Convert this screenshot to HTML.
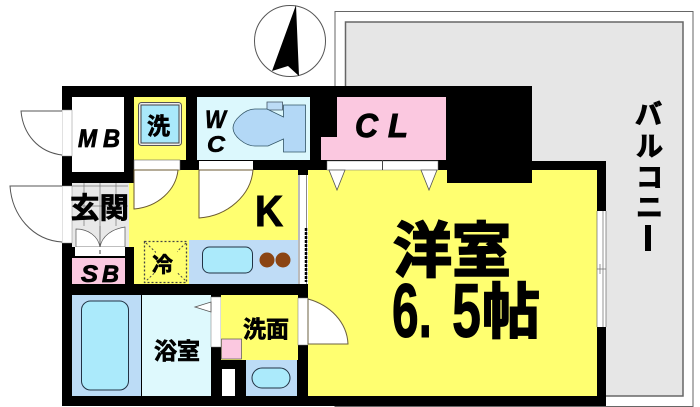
<!DOCTYPE html>
<html><head><meta charset="utf-8"><style>
html,body{margin:0;padding:0;background:#fff;width:700px;height:407px;overflow:hidden}
svg{display:block}
text{font-family:"Liberation Sans","Noto Sans CJK JP",sans-serif;font-weight:700;fill:#000;stroke:#000}
</style></head><body>
<svg width="700" height="407" viewBox="0 0 700 407" xmlns="http://www.w3.org/2000/svg">
<!-- balcony -->
<rect x="335" y="11.500" width="358" height="395" fill="#fff" stroke="#666" stroke-width="1"/>
<rect x="345.500" y="22" width="337.500" height="374" fill="#e6e6e6" stroke="#666" stroke-width="1.500"/>
<!-- compass -->
<circle cx="290" cy="41" r="35.500" fill="#fff" stroke="#555" stroke-width="1"/>
<polygon points="296,5 272,71 288,66 299,76" fill="#000"/>
<!-- walls -->
<rect x="62" y="86" width="470" height="320" fill="#000"/>
<rect x="532" y="161" width="74" height="245" fill="#000"/>
<rect x="335" y="396" width="271" height="10" fill="#000"/>
<!-- main room -->
<polygon points="308,170 447,170 447,183 532,183 532,170 597,170 597,396 308,396" fill="#ffff70"/>
<!-- K -->
<polygon points="134,170 298,170 298,284 134,284" fill="#ffff70"/>
<polygon points="129,183 134,183 134,247 129,247" fill="#ffff70"/>
<!-- MB -->
<rect x="72" y="97" width="52" height="75" fill="#fff"/>
<!-- laundry -->
<rect x="134" y="97" width="52" height="63" fill="#ffff70"/>
<rect x="134" y="160" width="46" height="10" fill="#fff" stroke="#666" stroke-width="0.600"/>
<rect x="138.500" y="102.500" width="43" height="43" rx="3" fill="#eee" stroke="#555"/>
<rect x="141" y="105" width="38" height="38" fill="#a9e9fb" stroke="#444"/>
<!-- WC -->
<rect x="197" y="97" width="113" height="63" fill="#dcf8fd"/>
<rect x="199" y="161" width="54" height="9" fill="#fff"/>
<polygon points="267,102 282.500,102 282.500,110 267,110" fill="#bcdcf5" stroke="#456" stroke-width="0.800"/>
<path d="M283.500,105 H305.500 V152 H283.500 V139 L268,146 H255 C245,146 233,136 233,128 C233,120 245,109 255,109 H267 L283.500,117 Z" fill="#b3d8f6" stroke="#356" stroke-width="0.800"/>
<!-- closet -->
<polygon points="337,97 446,97 446,160 321,160 321,137 337,137" fill="#fbc8e0"/>
<rect x="327" y="161" width="111" height="9" fill="#fff" stroke="#777" stroke-width="0.500"/>
<line x1="382.500" y1="160" x2="382.500" y2="170" stroke="#444"/>
<polygon points="329,170 345,170 337,190" fill="#fff" stroke="#555" stroke-width="0.800"/>
<polygon points="421,170 437,170 429,190" fill="#fff" stroke="#555" stroke-width="0.800"/>
<!-- doors -->
<path d="M134,170 H178 C176,190 158,207 134,209 Z" fill="#fff" stroke="#6b5a30"/>
<path d="M199,170 H253 C251,195 228,216 199,218 Z" fill="#fff" stroke="#6b5a30"/>
<!-- K partition -->
<rect x="298" y="175" width="10" height="109" fill="#fff"/>
<line x1="299" y1="175" x2="299" y2="284" stroke="#777"/>
<line x1="306.500" y1="175" x2="306.500" y2="284" stroke="#888"/>
<line x1="306" y1="228" x2="306" y2="282" stroke="#000" stroke-width="2.500" stroke-dasharray="3 1"/>
<!-- fridge -->
<rect x="144.500" y="241.500" width="42" height="41" fill="#ffff70" stroke="#444" stroke-width="1.300" stroke-dasharray="2 2"/>
<line x1="146" y1="243" x2="186" y2="281" stroke="#444" stroke-width="1" stroke-dasharray="2 2"/>
<line x1="186" y1="243" x2="146" y2="281" stroke="#444" stroke-width="1" stroke-dasharray="2 2"/>
<rect x="156" y="250" width="21" height="24" fill="#ffff70"/>
<!-- counter -->
<rect x="189" y="240" width="109" height="44" fill="#bfdcf6"/>
<rect x="202.500" y="247" width="50" height="26" rx="7" fill="#abeafb" stroke="#234"/>
<circle cx="267" cy="260" r="7.500" fill="#8b4513"/>
<circle cx="283" cy="260" r="7.500" fill="#8b4513"/>
<!-- entry -->
<rect x="72" y="183" width="57" height="64" fill="#e8e8e8"/>
<g stroke="#777" stroke-width="0.700">
<line x1="84" y1="183" x2="84" y2="226"/><line x1="100" y1="183" x2="100" y2="226"/><line x1="116" y1="183" x2="116" y2="226"/>
<line x1="72" y1="186" x2="128" y2="186"/><line x1="72" y1="206" x2="128" y2="206"/>
</g>
<path d="M76,247 V229 C88,229 98,236 100,247 C102,236 112,229 125,227 V247 Z" fill="#fff" stroke="#555" stroke-width="0.700"/>
<rect x="75" y="247" width="50" height="9" fill="#fff"/>
<line x1="100" y1="250" x2="100" y2="254" stroke="#444"/>
<line x1="100" y1="226" x2="100" y2="247" stroke="#555" stroke-width="0.800"/>
<!-- outer doors -->
<rect x="62" y="110" width="10" height="46" fill="#fff" stroke="#888" stroke-width="0.500"/>
<path d="M62,111 H21 C23,134 38,152 62,155" fill="#fff" stroke="#555"/>
<rect x="62" y="186" width="10" height="57" fill="#fff" stroke="#888" stroke-width="0.500"/>
<path d="M62,186 H10 C12,215 32,240 62,242" fill="#fff" stroke="#555"/>
<!-- SB -->
<rect x="72" y="258" width="53" height="26" fill="#fbc8e0"/>
<!-- bath -->
<rect x="72" y="295" width="69" height="101" fill="#bcdcf6"/>
<rect x="81.500" y="301" width="47" height="89" rx="9" fill="#abeafb" stroke="#234"/>
<rect x="142" y="295" width="69" height="101" fill="#def9fd"/>
<rect x="211" y="297" width="10" height="50" fill="#fff" stroke="#777" stroke-width="0.500"/>
<polygon points="195,307 211,302 211,312" fill="#fff" stroke="#555" stroke-width="0.800"/>
<!-- washroom -->
<rect x="221" y="295" width="77" height="65" fill="#ffff70"/>
<rect x="221.500" y="339" width="20" height="20" fill="#fbc8e0" stroke="#555" stroke-width="0.700"/>
<rect x="222" y="369" width="13" height="27" fill="#fff"/>
<rect x="246" y="360" width="51" height="36" fill="#bcdcf6"/>
<rect x="252" y="368" width="38" height="20" rx="10" fill="#abeafb" stroke="#234"/>
<rect x="298" y="298" width="10" height="47" fill="#fff" stroke="#777" stroke-width="0.500"/>
<path d="M308,299 C330,305 347,322 348,344 H308 Z" fill="#fff" stroke="#6b6040"/>
<!-- window -->
<rect x="597" y="211" width="9" height="116" fill="#fff"/>
<g stroke="#666" stroke-width="0.700"><line x1="597" y1="211" x2="597" y2="327"/><line x1="603" y1="211" x2="603" y2="327"/><line x1="606" y1="211" x2="606" y2="327"/><line x1="597" y1="269" x2="606" y2="269"/><line x1="600" y1="264" x2="600" y2="274"/></g>
<!-- labels -->
<text x="78" y="147" font-size="25" stroke-width="0.800" font-style="italic" textLength="19" lengthAdjust="spacingAndGlyphs">M</text>
<text x="103" y="147" font-size="25" stroke-width="0.800" font-style="italic" textLength="17" lengthAdjust="spacingAndGlyphs">B</text>
<text x="147" y="134" font-size="23" stroke-width="0.700">洗</text>
<text x="205" y="128" font-size="25" stroke-width="0.600" font-style="italic" textLength="21" lengthAdjust="spacingAndGlyphs">W</text>
<text x="207" y="152" font-size="23" stroke-width="0.600" font-style="italic" textLength="18" lengthAdjust="spacingAndGlyphs">C</text>
<text x="355" y="137" font-size="33" stroke-width="1" font-style="italic" textLength="23" lengthAdjust="spacingAndGlyphs">C</text>
<text x="388" y="137" font-size="33" stroke-width="1" font-style="italic" textLength="20" lengthAdjust="spacingAndGlyphs">L</text>
<text x="255" y="226" font-size="44" stroke-width="1" textLength="28" lengthAdjust="spacingAndGlyphs">K</text>
<text x="70" y="218" font-size="29" stroke-width="0.700" textLength="59" lengthAdjust="spacingAndGlyphs">玄関</text>
<text x="81" y="282" font-size="24" stroke-width="0.800" font-style="italic" textLength="17" lengthAdjust="spacingAndGlyphs">S</text>
<text x="102" y="282" font-size="24" stroke-width="0.800" font-style="italic" textLength="17" lengthAdjust="spacingAndGlyphs">B</text>
<text x="152" y="272" font-size="21" stroke-width="0.600">冷</text>
<text x="154" y="359" font-size="23" stroke-width="0.700" textLength="46" lengthAdjust="spacingAndGlyphs">浴室</text>
<text x="243" y="337" font-size="23" stroke-width="0.700" textLength="46" lengthAdjust="spacingAndGlyphs">洗面</text>
<text x="393" y="272" font-size="60" stroke-width="2" textLength="118" lengthAdjust="spacingAndGlyphs">洋室</text>
<text x="392" y="337" font-size="76" stroke-width="1" textLength="40" lengthAdjust="spacingAndGlyphs">6.</text>
<text x="452" y="337" font-size="76" stroke-width="1" textLength="29" lengthAdjust="spacingAndGlyphs">5</text>
<text x="482" y="333" font-size="60" stroke-width="1.800" textLength="58" lengthAdjust="spacingAndGlyphs">帖</text>
<text x="635" y="124" font-size="27" stroke-width="1">バ</text>
<text x="636" y="156" font-size="27" stroke-width="1">ル</text>
<text x="636" y="187" font-size="27" stroke-width="1">コ</text>
<text x="636" y="217" font-size="27" stroke-width="1">ニ</text>
<rect x="645" y="225" width="6" height="26" fill="#000"/>
</svg>
</body></html>
